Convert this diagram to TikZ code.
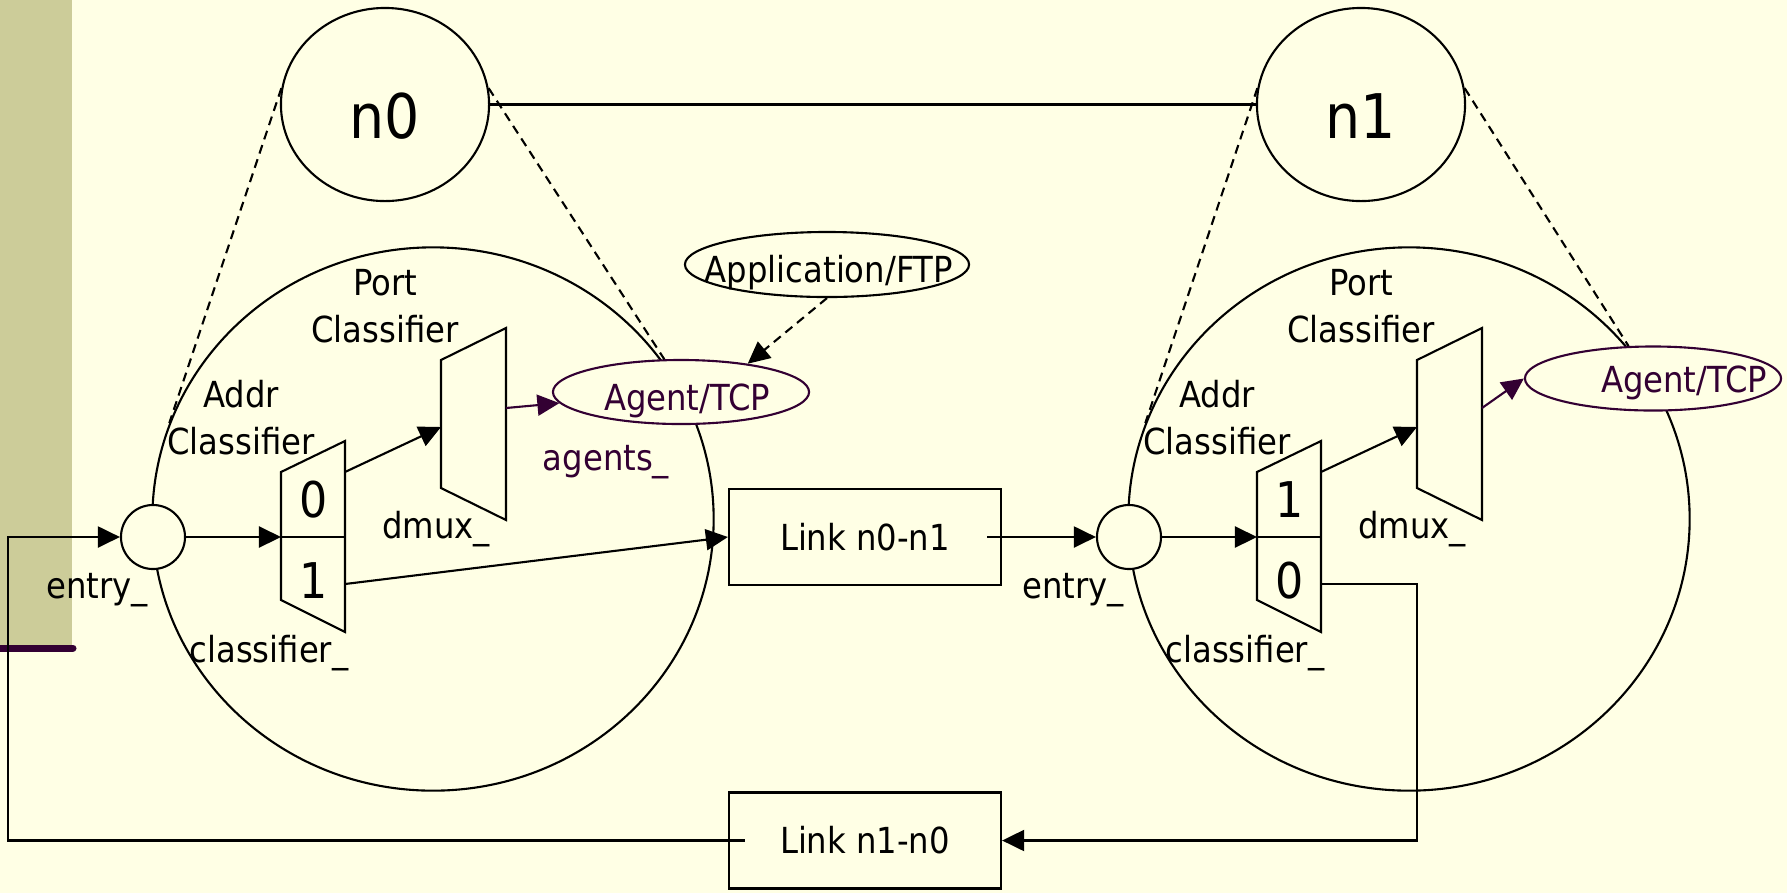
\documentclass[tikz,border=0pt]{standalone}
\usepackage{fontspec}
\setmainfont{DejaVu Sans Condensed}
\usetikzlibrary{arrows.meta,shapes.geometric}

\definecolor{paper}{RGB}{255,255,229}
\definecolor{olivebar}{RGB}{204,204,153}
\definecolor{agentpurple}{RGB}{51,0,51}

\begin{document}
\begin{tikzpicture}[
    x = 0.01cm,
    y = -0.01cm,
    line width = 0.6pt,
    lbl/.style = {font=\fontsize{10.2}{13.3}\selectfont, inner sep=0pt, align=center},
    digit/.style = {font=\fontsize{14}{16}\selectfont, inner sep=0pt},
    bignode/.style = {font=\fontsize{17.5}{20}\selectfont, draw, ellipse, inner sep=0pt,
      minimum width=2.08cm, minimum height=1.93cm, text height=0.67cm, text depth=0cm},
    scopering/.style = {draw, ellipse, inner sep=0pt, minimum width=5.61cm, minimum height=5.43cm},
    entrypt/.style = {draw, fill=paper, circle, inner sep=0pt, minimum size=0.64cm},
    agent/.style = {draw=agentpurple, fill=paper, ellipse, inner sep=0pt, minimum width=2.56cm, minimum height=0.64cm},
    linkbox/.style = {lbl, draw, rectangle, minimum width=2.72cm, minimum height=0.96cm},
    arr/.style = {-{Triangle[length=0.22cm, width=0.21cm]}},
    ghost/.style = {dash pattern=on 0.09cm off 0.06cm},
    ]
    \useasboundingbox (0,0) rectangle (1787,893);
    % slide background
    \fill[paper] (0,0) rectangle (1787,893);
    \fill[olivebar] (0,0) rectangle (72,648);
    \draw[agentpurple, line width=0.07cm, line cap=round] (-10,648) -- (73,648);
    % network nodes
    \node[bignode] (n0) at (385,104.5) {n0};
    \node[bignode] (n1) at (1361,104.5) {n1};
    \draw (n0.east) -- (n1.west);
    % inside of n0 and n1
    \foreach \i/\dx/\a/\b in {0/0/0/1, 1/976/1/0} {
      \begin{scope}[shift={(\dx,0)}]
        \node[scopering] (ring\i) at (433,519) {};
        \node[entrypt] (entry\i) at (153,537) {};
        % classifier
        \draw (281,472) -- (345,441) -- (345,632) -- (281,600) -- cycle;
        \draw (281,537) -- (345,537);
        \coordinate (cin\i) at (281,537);
        \coordinate (couta\i) at (345,472);
        \coordinate (coutb\i) at (345,584);
        \node[digit, anchor=base] (top\i) at (314,517) {\a};
        \node[digit, anchor=base] (bot\i) at (314,598) {\b};
        % dmux
        \draw (441,360) -- (506,328) -- (506,520) -- (441,488) -- cycle;
        \coordinate (din\i) at (441,427);
        \coordinate (dout\i) at (506,408);
        % labels (base = last line)
        \node[lbl, anchor=base] (addr\i) at (241,454) {Addr\\Classifier};
        \node[lbl, anchor=base] (port\i) at (385,342) {Port\\Classifier};
        \node[lbl, anchor=base] (dmuxlbl\i) at (436,538) {dmux\_};
        \node[lbl, anchor=base] (clslbl\i) at (269,662) {classifier\_};
        \node[lbl, anchor=base] (entrylbl\i) at (97,598) {entry\_};
        \draw[arr] (entry\i) -- (cin\i);
        \draw[arr] (couta\i) -- (din\i);
      \end{scope}
    }
    % agents
    \node[agent] (agent0) at (681,392) {};
    \node[lbl, anchor=base, text=agentpurple] (agent0txt) at (687,410) {Agent/TCP};
    \node[agent] (agent1) at (1653,378.5) {};
    \node[lbl, anchor=base, text=agentpurple] (agent1txt) at (1684,392) {Agent/TCP};
    \node[lbl, anchor=base, text=agentpurple] (agentslbl) at (606,470) {agents\_};
    \node[draw, ellipse, inner sep=0pt, minimum width=2.84cm, minimum height=0.65cm] (app) at (827,264.5) {};
    \node[lbl, anchor=base] (apptxt) at (829,282) {Application/FTP};
    \draw[arr, agentpurple] (dout0) -- (agent0);
    \draw[arr, agentpurple] (dout1) -- (agent1.west);
    \draw[arr, ghost] (app.south) -- (agent0.23);
    % links
    \node[linkbox] (link01) at (865,537) {Link n0-n1};
    \node[linkbox] (link10) at (865,840.5) {Link n1-n0};
    \draw[arr] (coutb0) -- (link01.west);
    \draw[arr] ([xshift=-0.15cm]link01.east) -- (entry1);
    \draw[arr] (coutb1) -| (din1 |- link10.east) -- (link10.east);
    \draw[arr] ([xshift=0.17cm]link10.west) -| ([xshift=-1.12cm]entry0.west) -- (entry0);
    % zoom lines
    \draw[ghost] (n0.171) -- (ring0.160);
    \draw[ghost] (n0.9) -- (agent0.117);
    \draw[ghost] (n1.171) -- (ring1.160);
    \draw[ghost] (n1.9) -- (agent1.127);
\end{tikzpicture}
\end{document}
